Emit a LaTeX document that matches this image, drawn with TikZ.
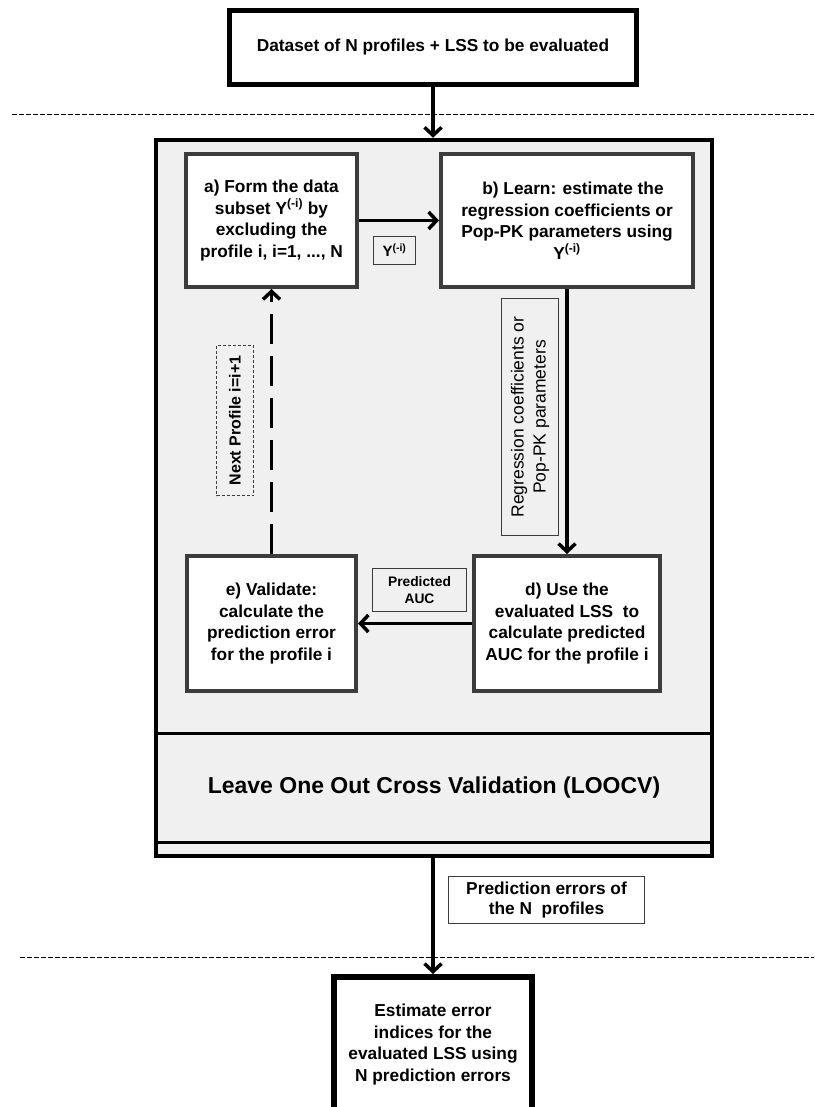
\documentclass[tikz,border=0pt]{standalone}
\usepackage{fontspec}
\setmainfont{Liberation Sans}
\usetikzlibrary{arrows.meta}
\definecolor{panel}{HTML}{F0F0F0}
\definecolor{boxline}{HTML}{3C3C3C}
\begin{document}
\begin{tikzpicture}[x=1pt,y=-1pt,
  boxtext/.style={font=\fontsize{17.3}{21.5}\selectfont\bfseries, align=center},
  stagebox/.style={draw=boxline, line width=4pt, fill=white, boxtext, inner sep=0pt},
  tagbox/.style={draw=boxline, line width=1.4pt, fill=panel, align=center, inner sep=0pt},
  flow/.style={line width=3.5pt, -{Straight Barb[length=8pt,width=17pt]}},
  sep/.style={line width=1pt, dash pattern=on 4.5pt off 2.5pt}
]
\useasboundingbox (0,0) rectangle (814,1107);
\fill[white] (0,0) rectangle (814,1107);

% top box
\node[draw, line width=5pt, minimum width=407pt, minimum height=74pt, boxtext] (top) at (433,47.5)
  {Dataset of N profiles + LSS to be evaluated};

% separator lines
\draw[sep] (12,115) -- (814,115);
\draw[sep] (20,957) -- (814,957);

% outer LOOCV frame
\node[draw, line width=4.5pt, fill=panel, minimum width=556pt, minimum height=716pt, inner sep=0pt] (outer) at (434,498) {};
\node[draw, line width=3pt, minimum width=556pt, minimum height=109pt, inner sep=0pt,
      font=\fontsize{23}{27}\selectfont\bfseries] (loocv) at (434,787.5)
  {Leave One Out Cross Validation (LOOCV)};

% stage boxes
\node[stagebox, minimum width=171pt, minimum height=133pt] (a) at (271.5,220.5)
  {a) Form the data\\ subset Y\textsuperscript{(-i)} by\\ excluding the\\ profile i, i=1, ..., N};
\node[stagebox, minimum width=252pt, minimum height=133pt] (b) at (567,220.5)
  {\hspace*{12pt}b) Learn: estimate the\\ regression coefficients or\\ Pop-PK parameters using\\ Y\textsuperscript{(-i)}};
\node[stagebox, minimum width=186pt, minimum height=135pt] (d) at (567,623.5)
  {d) Use the\\ evaluated LSS\ \ to\\ calculate predicted\\ AUC\ for the profile i};
\node[stagebox, minimum width=169pt, minimum height=135pt] (e) at (271.5,623.5)
  {e) Validate:\\ calculate the\\ prediction error\\ for the profile i};

% connectors
\draw[flow] (top.south) -- (top.south |- outer.north);
\draw[flow] (a.east) -- (b.west);
\draw[flow] (b.south) -- (d.north);
\draw[flow] (d.west) -- (e.east);
\draw[flow, dash pattern=on 30pt off 12pt] (e.north) -- (a.south);

% labels
\node[tagbox, minimum width=42pt, minimum height=28pt, font=\fontsize{15}{17}\selectfont\bfseries] (ylab) at (394.5,250.5)
  {Y\textsuperscript{(-i)}};
\node[tagbox, rotate=90, minimum width=237pt, minimum height=57pt, font=\fontsize{17.5}{22}\selectfont] (reglab) at (530,417)
  {Regression coefficients or\\ Pop-PK parameters};
\node[draw=boxline, line width=1.2pt, dash pattern=on 3pt off 2pt, fill=panel, rotate=90,
      minimum width=150pt, minimum height=37pt, inner sep=0pt, font=\fontsize{16}{19}\selectfont\bfseries] (nextlab) at (235,420.5)
  {Next Profile i=i+1};
\node[tagbox, minimum width=94pt, minimum height=43pt, font=\fontsize{13.8}{16.7}\selectfont\bfseries] (predlab) at (419.5,590)
  {Predicted\\ AUC};
\node[tagbox, fill=white, minimum width=196pt, minimum height=47pt, font=\fontsize{17.3}{20.5}\selectfont\bfseries] (perrlab) at (546.5,900)
  {Prediction errors of\\ the N\ \ profiles};

% final box
\node[draw, line width=6pt, fill=white, minimum width=198pt, minimum height=135pt, inner sep=0pt, boxtext] (final) at (433,1044.5)
  {Estimate error\\ indices for the\\ evaluated LSS using\\ N prediction errors};
\draw[flow] (final.north |- outer.south) -- (final.north);
\end{tikzpicture}
\end{document}
